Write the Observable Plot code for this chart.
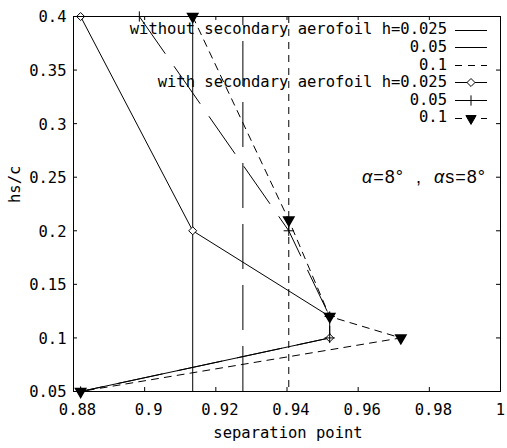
<!DOCTYPE html>
<html><head><meta charset="utf-8">
<script src="https://cdn.jsdelivr.net/npm/d3@7"></script>
<script src="https://cdn.jsdelivr.net/npm/@observablehq/plot@0.6"></script>
<style>body{margin:0;background:#fff}</style>
</head><body><div id="chart"></div>
<script>
// ---- data ----
const xTicks = [0.88, 0.9, 0.92, 0.94, 0.96, 0.98, 1.0];
const xTickLabels = ["0.88", "0.9", "0.92", "0.94", "0.96", "0.98", "1"];
const yTicks = [0.05, 0.1, 0.15, 0.2, 0.25, 0.3, 0.35, 0.4];
const yTickLabels = ["0.05", "0.1", "0.15", "0.2", "0.25", "0.3", "0.35", "0.4"];
const xLabel = "separation point";
const yLabel = "hs/c";

// without secondary aerofoil: separation point for h = 0.025, 0.05, 0.1
const withoutH = ["0.025", "0.05", "0.1"];
const withoutX = [0.9135, 0.9276, 0.9405];

// with secondary aerofoil
const withY = [0.4, 0.2, 0.12, 0.1, 0.05];
const withX025 = [0.882, 0.9135, 0.952, 0.952, 0.882];
const withX05 = [0.8985, 0.9405, 0.952, 0.952, 0.882];
const withY1 = [0.4, 0.21, 0.12, 0.1, 0.05];
const withX1 = [0.9135, 0.9405, 0.952, 0.972, 0.882];

const legendLabels = [
  "without secondary aerofoil h=0.025", "0.05", "0.1",
  "with secondary aerofoil h=0.025", "0.05", "0.1"
];

// ---- build ----
const rows = (xs, ys) => xs.map((x, i) => ({x, y: ys[i]}));
const s025 = rows(withX025, withY);
const s05 = rows(withX05, withY);
const s1 = rows(withX1, withY1);

const W = 507, H = 448, mL = 73, mR = 7, mT = 16, mB = 57;
const pw = W - mL - mR, ph = H - mT - mB, tk = 4;
const mono = "DejaVu Sans Mono";
const longDash = "45,16", shortDash = "7,6";
const fmtX = d => xTickLabels[xTicks.indexOf(d)];

const chart = Plot.plot({
  width: W, height: H,
  marginLeft: mL, marginRight: mR, marginTop: mT, marginBottom: mB,
  x: {domain: [0.88, 1.0]},
  y: {domain: [0.05, 0.4]},
  style: {fontFamily: mono, fontSize: "15.5px", color: "black", background: "white"},
  marks: [
    Plot.ruleX([withoutX[0]], {stroke: "black"}),
    Plot.ruleX([withoutX[1]], {stroke: "black", strokeDasharray: longDash, strokeDashoffset: 36}),
    Plot.ruleX([withoutX[2]], {stroke: "black", strokeDasharray: shortDash}),
    Plot.line(s025, {x: "x", y: "y", stroke: "black", strokeWidth: 1}),
    Plot.line(s05, {x: "x", y: "y", stroke: "black", strokeWidth: 1, strokeDasharray: longDash}),
    Plot.line(s1, {x: "x", y: "y", stroke: "black", strokeWidth: 1, strokeDasharray: shortDash}),
    Plot.dot(s025, {x: "x", y: "y", symbol: "diamond2", r: 3.6, fill: "white", stroke: "black", strokeWidth: 1}),
    Plot.dot(s05, {x: "x", y: "y", symbol: "plus", r: 3.4, fill: "none", stroke: "black", strokeWidth: 1}),
    Plot.dot(s1, {x: "x", y: "y", symbol: "triangle", r: 3.8, fill: "black", stroke: "black", rotate: 180}),
    Plot.frame({stroke: "black"}),
    Plot.ruleX(xTicks, {stroke: "black", insetTop: ph - tk}),
    Plot.ruleX(xTicks, {stroke: "black", insetBottom: ph - tk}),
    Plot.ruleY(yTicks, {stroke: "black", insetRight: pw - tk}),
    Plot.ruleY(yTicks, {stroke: "black", insetLeft: pw - tk}),
    Plot.axisX({ticks: xTicks.slice(0, -1), tickSize: 0, tickPadding: 12, dx: 4, label: null, tickFormat: fmtX}),
    Plot.axisX({ticks: xTicks.slice(-1), tickSize: 0, tickPadding: 12, dx: 0, label: null, tickFormat: fmtX}),
    Plot.axisY({ticks: yTicks, tickSize: 0, tickPadding: 7, dy: 1, label: null,
      tickFormat: d => yTickLabels[yTicks.indexOf(d)]}),
    Plot.text([xLabel], {frameAnchor: "bottom", lineAnchor: "bottom", dy: 46, dx: 1, text: d => d}),
    Plot.text([yLabel], {frameAnchor: "left", rotate: -90, dx: -58, dy: -1, text: d => d})
  ]
});
document.getElementById("chart").appendChild(chart);

// legend (key) in the upper right, gnuplot style
const svg = d3.select(chart);
const key = svg.append("g").attr("font-family", mono).attr("font-size", "15.5px");
const styles = [
  {dash: null, sym: null}, {dash: longDash, sym: null}, {dash: shortDash, sym: null},
  {dash: null, sym: "diamond"}, {dash: longDash, sym: "plus"}, {dash: shortDash, sym: "tri"}
];
legendLabels.forEach((lab, i) => {
  const y = 29.5 + i * 17.6;
  key.append("text").attr("x", 447).attr("y", y).attr("dy", "0.32em")
    .attr("text-anchor", "end").attr("fill", "black").text(lab);
  const cy = Math.round(y) + 0.5, cx = 471;
  const ln = key.append("line").attr("x1", 455).attr("x2", 487)
    .attr("y1", cy).attr("y2", cy).attr("stroke", "black");
  if (styles[i].dash) ln.attr("stroke-dasharray", styles[i].dash);
  if (styles[i].sym === "diamond") {
    key.append("path").attr("d", d3.symbol(d3.symbolDiamond2, Math.PI * 3.6 * 3.6)())
      .attr("transform", `translate(${cx},${cy})`).attr("fill", "white").attr("stroke", "black");
  } else if (styles[i].sym === "plus") {
    key.append("path").attr("d", d3.symbol(d3.symbolPlus, Math.PI * 3.4 * 3.4)())
      .attr("transform", `translate(${cx},${cy})`).attr("fill", "none").attr("stroke", "black");
  } else if (styles[i].sym === "tri") {
    key.append("path").attr("d", d3.symbol(d3.symbolTriangle, Math.PI * 3.8 * 3.8)())
      .attr("transform", `translate(${cx},${cy}) rotate(180)`).attr("fill", "black").attr("stroke", "black");
  }
});

// angle annotation
const ann = svg.append("text").attr("x", 362).attr("y", 183).attr("text-anchor", "start")
  .attr("font-family", "Liberation Sans").attr("font-size", "18px")
  .attr("letter-spacing", "1px").attr("fill", "black").style("white-space", "pre");
ann.append("tspan").attr("font-style", "italic").text("α");
ann.append("tspan").text("=8°  ,  ");
ann.append("tspan").attr("font-style", "italic").text("α");
ann.append("tspan").text("s=8°");
</script>
</body></html>
